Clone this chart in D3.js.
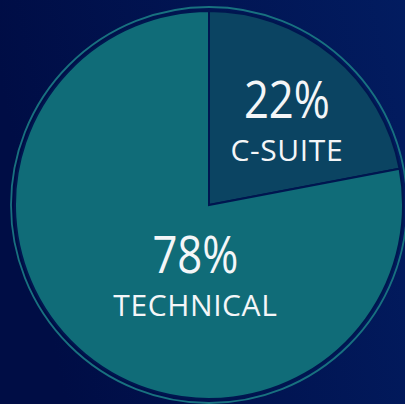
<!DOCTYPE html>
<html lang="en">
<head>
    <meta charset="UTF-8">
    <title>C-Suite vs Technical</title>
    <script src="https://d3js.org/d3.v7.min.js"></script>
    <style>
        body { margin: 0; background: #000f47; }
        svg { display: block; }
        .pct, .lbl { font-family: "Open Sans", sans-serif; fill: #f4f6f8; text-anchor: middle; }
    </style>
</head>
<body>
    <div id="chart"></div>
    <script>
        // Data
        const categories = ["C-SUITE", "TECHNICAL"];
        const shares = [22, 78];
        const colors = ["#0b4462", "#106c78"];

        const width = 405;
        const height = 404;
        const cx = 209, cy = 205;
        const radius = 194;

        const svg = d3.select("#chart")
            .append("svg")
            .attr("width", width)
            .attr("height", height);

        // background gradient
        const defs = svg.append("defs");
        const grad = defs.append("linearGradient")
            .attr("id", "bg")
            .attr("x1", "0%").attr("y1", "20%")
            .attr("x2", "100%").attr("y2", "0%");
        grad.append("stop").attr("offset", "0%").attr("stop-color", "#000d45");
        grad.append("stop").attr("offset", "100%").attr("stop-color", "#021c60");

        svg.append("rect")
            .attr("width", width)
            .attr("height", height)
            .attr("fill", "url(#bg)");

        const g = svg.append("g")
            .attr("transform", `translate(${cx}, ${cy})`);

        const data = categories.map((c, i) => ({ name: c, value: shares[i], color: colors[i] }));

        const pie = d3.pie()
            .value(d => d.value)
            .sort(null);

        const arc = d3.arc()
            .innerRadius(0)
            .outerRadius(radius);

        // thin outer ring
        g.append("circle")
            .attr("r", radius + 4)
            .attr("fill", "none")
            .attr("stroke", "#18717f")
            .attr("stroke-width", 1.8);

        g.selectAll(".slice")
            .data(pie(data))
            .enter()
            .append("path")
            .attr("class", "slice")
            .attr("d", arc)
            .attr("fill", d => d.data.color)
            .attr("stroke", "#00164f")
            .attr("stroke-width", 2);

        // label placement: distance along centroid angle, then a nudge
        const labelPos = [
            { r: 0.63, dx: 0, dy: 7 },
            { r: 0.11, dx: 0, dy: 52 }
        ];

        pie(data).forEach((d, i) => {
            const a = (d.startAngle + d.endAngle) / 2;
            const rr = radius * labelPos[i].r;
            const x = Math.sin(a) * rr + labelPos[i].dx;
            const y = -Math.cos(a) * rr + labelPos[i].dy;

            g.append("text")
                .attr("class", "pct")
                .attr("x", x)
                .attr("y", y)
                .style("font-size", "52px")
                .attr("textLength", 86)
                .attr("lengthAdjust", "spacingAndGlyphs")
                .text(`${d.data.value}%`);

            g.append("text")
                .attr("class", "lbl")
                .attr("x", x)
                .attr("y", y + 43)
                .style("font-size", "30px")
                .style("letter-spacing", "0.6px")
                .text(d.data.name);
        });
    </script>
</body>
</html>
